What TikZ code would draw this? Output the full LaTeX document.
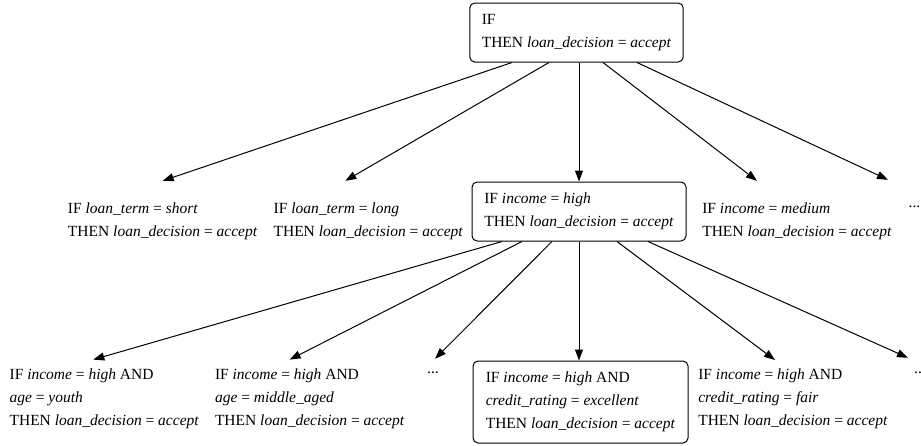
\documentclass[tikz,border=0pt]{standalone}
\usepackage{fontspec}
\setmainfont{Liberation Serif}
\usetikzlibrary{arrows.meta}

\tikzset{
  rulebox/.style = {draw, rounded corners=5pt, line width=1pt, align=left,
                    inner xsep=12pt, font=\fontsize{15.5}{23}\selectfont},
  rule/.style    = {align=left, inner xsep=0pt, font=\fontsize{15.5}{23}\selectfont},
  dots/.style    = {inner sep=0pt, font=\fontsize{15.5}{23}\selectfont},
  arr/.style     = {-{Triangle[length=11pt,width=8pt]}, line width=1pt}
}

\begin{document}
\begin{tikzpicture}[x=1pt, y=1pt]
        \useasboundingbox (0,0) rectangle (921,-445);

        % level 1
        \node[rulebox, minimum width=213pt, minimum height=59pt] at (576.5, -32.5) (root)
          {IF\\THEN \textit{loan\_decision} = \textit{accept}};

        % level 2
        \node[rule, minimum height=80pt] at (162.7,-221) (short)
          {IF \textit{loan\_term} = \textit{short}\\THEN \textit{loan\_decision} = \textit{accept}};
        \node[rule, minimum height=80pt] at (368.3,-221) (long)
          {IF \textit{loan\_term} = \textit{long}\\THEN \textit{loan\_decision} = \textit{accept}};
        \node[rulebox, minimum width=214pt, minimum height=59pt] at (579,-211.5) (high)
          {IF \textit{income} = \textit{high}\\THEN \textit{loan\_decision} = \textit{accept}};
        \node[rule, minimum height=80pt] at (797,-221) (medium)
          {IF \textit{income} = \textit{medium}\\THEN \textit{loan\_decision} = \textit{accept}};
        \node[dots, minimum height=54pt] at (914.5,-207) (more1) {...};

        % level 3
        \node[rule, minimum height=77pt] at (104.3,-398.3) (youth)
          {IF \textit{income} = \textit{high} AND\\\textit{age} = \textit{youth}\\THEN \textit{loan\_decision} = \textit{accept}};
        \node[rule, minimum height=77pt] at (309.7,-398.3) (middle)
          {IF \textit{income} = \textit{high} AND\\\textit{age} = \textit{middle\_aged}\\THEN \textit{loan\_decision} = \textit{accept}};
        \node[dots, minimum height=28pt] at (433,-373) (more2) {...};
        \node[rulebox, minimum width=215pt, minimum height=82pt] at (580.5,-402) (excellent)
          {IF \textit{income} = \textit{high} AND\\\textit{credit\_rating} = \textit{excellent}\\THEN \textit{loan\_decision} = \textit{accept}};
        \node[rule, minimum height=77pt] at (793,-398.7) (fair)
          {IF \textit{income} = \textit{high} AND\\\textit{credit\_rating} = \textit{fair}\\THEN \textit{loan\_decision} = \textit{accept}};
        \node[dots, minimum height=30pt] at (920,-373) (more3) {...};

        \draw[arr] ([xshift=-64.5pt]root.south) -- (short.north);
        \draw[arr] ([xshift=-27.5pt]root.south) -- ([xshift=-23pt]long.north);
        \draw[arr] (root.south -| high.north)   -- (high.north);
        \draw[arr] ([xshift=26.5pt]root.south)  -- ([xshift=-40pt]medium.north);
        \draw[arr] ([xshift=60.5pt]root.south)  -- ([xshift=-26.5pt]more1.north);

        \draw[arr] ([xshift=-77pt]high.south) -- ([xshift=-11pt]youth.north);
        \draw[arr] ([xshift=-57pt]high.south) -- ([xshift=-20pt]middle.north);
        \draw[arr] ([xshift=-27pt]high.south) -- ([xshift=2pt]more2.north);
        \draw[arr] (high.south)               -- (high.south |- excellent.north);
        \draw[arr] ([xshift=38pt]high.south)  -- ([xshift=-18pt]fair.north);
        \draw[arr] ([xshift=69pt]high.south)  -- ([xshift=-12pt]more3.north);
      \end{tikzpicture}
\end{document}
